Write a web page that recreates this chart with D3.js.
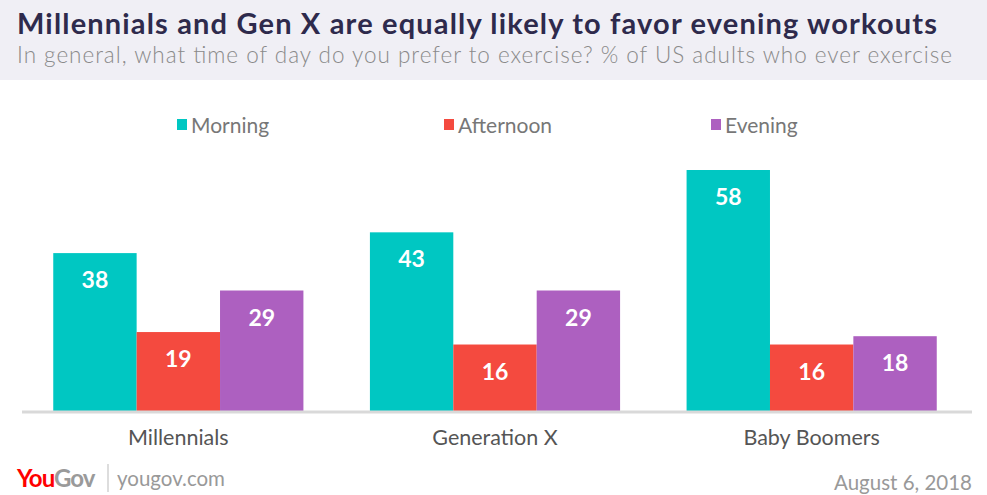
<!DOCTYPE html>
<html lang="en">
<head>
<meta charset="utf-8">
<title>Exercise time</title>
<script src="https://cdn.jsdelivr.net/npm/d3@7"></script>
<style>
  body { margin: 0; background: #fff; }
  text { font-family: Lato, "Open Sans", sans-serif; }
</style>
</head>
<body>
<script>
// data
var groups = ['Millennials', 'Generation X', 'Baby Boomers'];
var series = ['Morning', 'Afternoon', 'Evening'];
var morning = [38, 43, 58];
var afternoon = [19, 16, 16];
var evening = [29, 29, 18];
var colors = ['#00c7c2', '#f44a3f', '#ad60c0'];

var w = 987, h = 495;
var svg = d3.select('body').append('svg').attr('width', w).attr('height', h);

// header band
svg.append('rect').attr('x', 0).attr('y', 0).attr('width', w).attr('height', 80).attr('fill', '#f0eff5');
svg.append('text').attr('x', 17).attr('y', 34)
  .attr('font-size', 29).attr('font-weight', 'bold').attr('fill', '#2e2a4c')
  .attr('textLength', 920).attr('lengthAdjust', 'spacing')
  .text('Millennials and Gen X are equally likely to favor evening workouts');
svg.append('text').attr('x', 17).attr('y', 63)
  .attr('font-size', 22.5).attr('font-weight', 300).attr('fill', '#8a8a8a')
  .attr('textLength', 935).attr('lengthAdjust', 'spacing')
  .text('In general, what time of day do you prefer to exercise? % of US adults who ever exercise');

var rows = groups.map(function(g, i) {
  return { group: g, values: [morning[i], afternoon[i], evening[i]] };
});

var x0 = d3.scaleBand().domain(groups).range([20, 970]).paddingInner(0.21).paddingOuter(0.105);
var x1 = d3.scaleBand().domain(series).range([0, x0.bandwidth()]);
var y = d3.scaleLinear().domain([0, 58]).range([411, 170]);

var g = svg.selectAll('g.grp').data(rows).enter().append('g')
  .attr('transform', function(d) { return 'translate(' + x0(d.group) + ',0)'; });

g.selectAll('rect').data(function(d) { return d.values.map(function(v, j) { return { s: series[j], v: v, j: j }; }); })
  .enter().append('rect')
  .attr('x', function(d) { return x1(d.s); })
  .attr('y', function(d) { return y(d.v); })
  .attr('width', x1.bandwidth())
  .attr('height', function(d) { return y(0) - y(d.v); })
  .attr('fill', function(d) { return colors[d.j]; });

g.selectAll('text.val').data(function(d) { return d.values.map(function(v, j) { return { s: series[j], v: v }; }); })
  .enter().append('text')
  .attr('class', 'val')
  .attr('x', function(d) { return x1(d.s) + x1.bandwidth() / 2; })
  .attr('y', function(d) { return y(d.v) + 35; })
  .attr('text-anchor', 'middle')
  .attr('font-size', 23).attr('font-weight', 'bold').attr('fill', '#fff')
  .text(function(d) { return d.v; });

// baseline
svg.append('line').attr('x1', 22).attr('x2', 972).attr('y1', 412).attr('y2', 412)
  .attr('stroke', '#d9d9d9').attr('stroke-width', 3);

// category axis
var xAxis = d3.axisBottom(x0).tickSize(0).tickPadding(0);
var ax = svg.append('g').attr('transform', 'translate(0,414)').call(xAxis);
ax.select('.domain').remove();
ax.selectAll('text').attr('dy', 0).attr('y', 31)
  .attr('font-size', 21.5).attr('fill', '#555')
  .style('font-family', 'Lato, "Open Sans", sans-serif');

// legend
var legendX = [177, 444, 711];
var lg = svg.selectAll('g.lg').data(series).enter().append('g')
  .attr('transform', function(d, i) { return 'translate(' + legendX[i] + ',119)'; });
lg.append('rect').attr('width', 10).attr('height', 11).attr('fill', function(d, i) { return colors[i]; });
lg.append('text').attr('x', 14).attr('y', 14).attr('font-size', 21).attr('fill', '#777')
  .text(function(d) { return d; });

// footer
var logo = svg.append('text').attr('x', 17).attr('y', 487).attr('font-size', 24).attr('font-weight', 'bold')
  .attr('letter-spacing', -1);
logo.append('tspan').attr('fill', '#ff0000').text('You');
logo.append('tspan').attr('fill', '#9a9a9a').text('Gov');
svg.append('line').attr('x1', 108).attr('x2', 108).attr('y1', 464).attr('y2', 492).attr('stroke', '#bbb');
svg.append('text').attr('x', 117).attr('y', 486).attr('font-size', 20.5).attr('fill', '#999').text('yougov.com');
svg.append('text').attr('x', 972).attr('y', 490).attr('text-anchor', 'end')
  .attr('font-size', 20.5).attr('fill', '#999').text('August 6, 2018');
</script>
</body>
</html>
